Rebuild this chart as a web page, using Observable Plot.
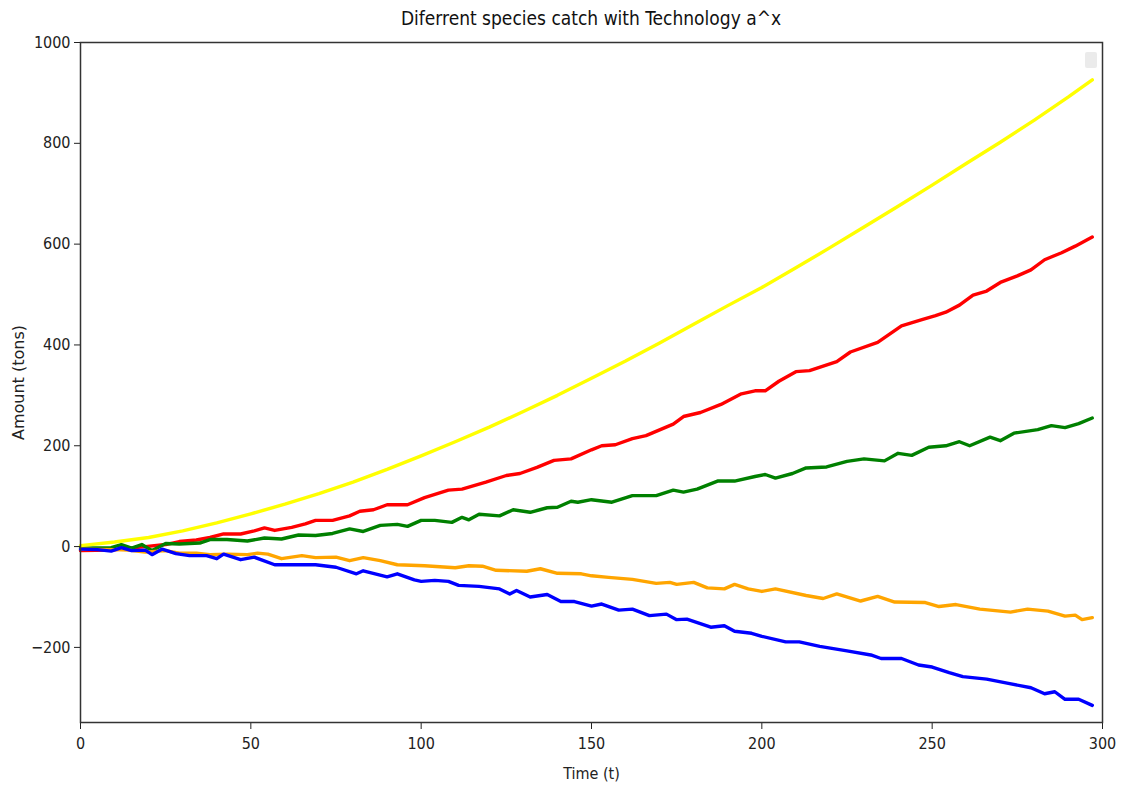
<!DOCTYPE html>
<html>
<head>
<meta charset="utf-8">
<script src="https://cdn.jsdelivr.net/npm/d3@7"></script>
<script src="https://cdn.jsdelivr.net/npm/@observablehq/plot@0.6"></script>
<style>
  body { margin: 0; background: #fff; }
  #wrap { position: relative; width: 1121px; height: 787px; }
  #chart { position: absolute; left: 0; top: 20px; }
  #title {
    position: absolute; left: 80px; width: 1022px; top: 7px;
    text-align: center; font-family: "DejaVu Sans Condensed", "DejaVu Sans", sans-serif;
    font-size: 19px; color: #111; z-index: 2;
  }
  #legendbox {
    position: absolute; left: 1085px; top: 52px; width: 12px; height: 16px;
    background: #ebebeb; border-radius: 2px; z-index: 2;
  }
  .ylabel text { letter-spacing: 1.2px; }
</style>
</head>
<body>
<div id="wrap">
  <div id="chart"></div>
  <div id="title">Diferrent species catch with Technology a^x</div>
  <div id="legendbox"></div>
</div>
<script>
// Catch per species over time, [t, amount] pairs
const yellowSeries = [[0,2],[10,9],[20,18],[30,31],[40,47],[50,65],[60,84],[70,105],[80,128],[90,153],[100,180],[110,208],[120,237],[130,268],[140,300],[150,334],[160,368],[170,404],[180,441],[190,478],[200,514],[210,553],[220,593],[230,634],[240,675],[250,717],[260,760],[270,802],[280,846],[290,892],[297,926]];

const redSeries = [[0,-8],[9,-7],[19,0],[25,4],[29,10],[34,13],[38,18],[42,25],[47,25],[51,31],[54,37],[57,32],[62,38],[66,45],[69,52],[74,52],[79,61],[82,70],[86,73],[90,83],[96,83],[101,97],[108,112],[112,114],[119,128],[125,141],[129,145],[134,157],[139,171],[144,174],[150,192],[153,200],[157,202],[162,214],[166,220],[174,243],[177,258],[182,266],[188,282],[194,303],[198,309],[201,309],[205,328],[210,347],[214,349],[222,367],[226,386],[234,405],[241,438],[247,450],[251,458],[254,465],[258,479],[262,499],[266,507],[270,524],[275,537],[279,549],[283,569],[288,583],[292,596],[297,614]];

const greenSeries = [[0,-3],[9,-2],[12,4],[15,-3],[18,4],[21,-8],[25,6],[29,5],[35,7],[38,14],[43,14],[49,11],[54,17],[59,15],[64,23],[69,22],[74,26],[79,35],[83,30],[88,42],[93,44],[96,40],[100,52],[104,52],[109,48],[112,58],[114,53],[117,64],[123,61],[127,73],[132,68],[137,77],[140,78],[144,90],[146,88],[150,93],[156,88],[162,101],[169,101],[174,112],[177,108],[181,114],[187,130],[192,130],[198,139],[201,143],[204,136],[209,145],[213,156],[219,158],[225,169],[230,174],[236,170],[240,185],[244,181],[249,197],[254,200],[258,208],[261,200],[267,217],[270,210],[274,225],[281,232],[285,240],[289,236],[293,244],[297,255]];

const orangeSeries = [[0,-5],[10,-6],[14,-7],[19,-11],[25,-8],[29,-13],[34,-13],[38,-16],[43,-15],[49,-16],[52,-13],[55,-15],[59,-24],[65,-18],[69,-22],[75,-21],[79,-28],[83,-22],[88,-28],[93,-36],[101,-38],[110,-42],[114,-38],[118,-39],[122,-47],[131,-49],[135,-44],[140,-53],[147,-54],[150,-58],[155,-61],[162,-65],[169,-73],[173,-71],[175,-75],[180,-71],[184,-82],[189,-84],[192,-75],[196,-84],[200,-89],[204,-84],[213,-97],[218,-103],[222,-94],[229,-108],[234,-99],[239,-110],[248,-111],[252,-119],[257,-115],[264,-124],[273,-130],[278,-124],[284,-128],[289,-138],[292,-136],[294,-145],[297,-141]];

const blueSeries = [[0,-5],[5,-6],[9,-9],[12,-2],[15,-8],[19,-7],[21,-16],[24,-5],[28,-14],[32,-18],[37,-18],[40,-24],[42,-15],[47,-26],[51,-21],[57,-36],[69,-36],[75,-41],[81,-54],[83,-48],[90,-60],[93,-54],[98,-66],[100,-69],[104,-67],[108,-69],[111,-77],[117,-79],[123,-84],[126,-94],[128,-87],[132,-100],[137,-95],[141,-109],[145,-109],[150,-118],[153,-114],[158,-126],[162,-124],[167,-137],[172,-134],[175,-145],[178,-144],[185,-160],[189,-157],[192,-168],[197,-172],[200,-178],[207,-189],[211,-189],[217,-198],[225,-207],[232,-215],[235,-222],[241,-222],[246,-235],[250,-239],[255,-250],[259,-258],[266,-263],[272,-271],[279,-280],[283,-292],[286,-288],[289,-303],[293,-303],[297,-315]];

const xTicks = [0, 50, 100, 150, 200, 250, 300];
const yTicks = [-200, 0, 200, 400, 600, 800, 1000];

// drawing order: later series sit on top
const layers = [
  {name: "red", color: "#ff0000", data: redSeries},
  {name: "green", color: "#008000", data: greenSeries},
  {name: "orange", color: "#ffa500", data: orangeSeries},
  {name: "blue", color: "#0000ff", data: blueSeries},
  {name: "yellow", color: "#ffff00", data: yellowSeries}
];

const minus = d => d < 0 ? "\u2212" + Math.abs(d) : String(d);

const chart = Plot.plot({
  width: 1121,
  height: 767,
  marginLeft: 80,
  marginRight: 19,
  marginTop: 22,
  marginBottom: 65,
  style: {fontFamily: "'DejaVu Sans Condensed', 'DejaVu Sans', sans-serif", fontSize: "16px", color: "#222", background: "transparent"},
  x: {domain: [0, 300]},
  y: {domain: [-349, 1000]},
  marks: [
    ...layers.map(s => Plot.line(s.data, {
      x: d => d[0], y: d => d[1], stroke: s.color, strokeWidth: 3.4,
      strokeLinejoin: "round", strokeLinecap: "round"
    })),
    Plot.axisX({ticks: xTicks, tickSize: 7, tickPadding: 8, tickFormat: d => String(d),
      fontSize: 16, label: "Time (t)", labelAnchor: "center", labelArrow: "none", labelOffset: 56}),
    Plot.axisY({ticks: yTicks, tickSize: 6, tickPadding: 4, tickFormat: minus, fontSize: 16}),
    Plot.axisY({ticks: [], tickSize: 0, label: "Amount (tons)", labelAnchor: "center", labelArrow: "none",
      labelOffset: 68, fontFamily: "'DejaVu Sans', sans-serif", fontSize: 16, className: "ylabel"}),
    Plot.frame({stroke: "#333", strokeWidth: 1.5})
  ]
});
document.getElementById("chart").appendChild(chart);
</script>
</body>
</html>
